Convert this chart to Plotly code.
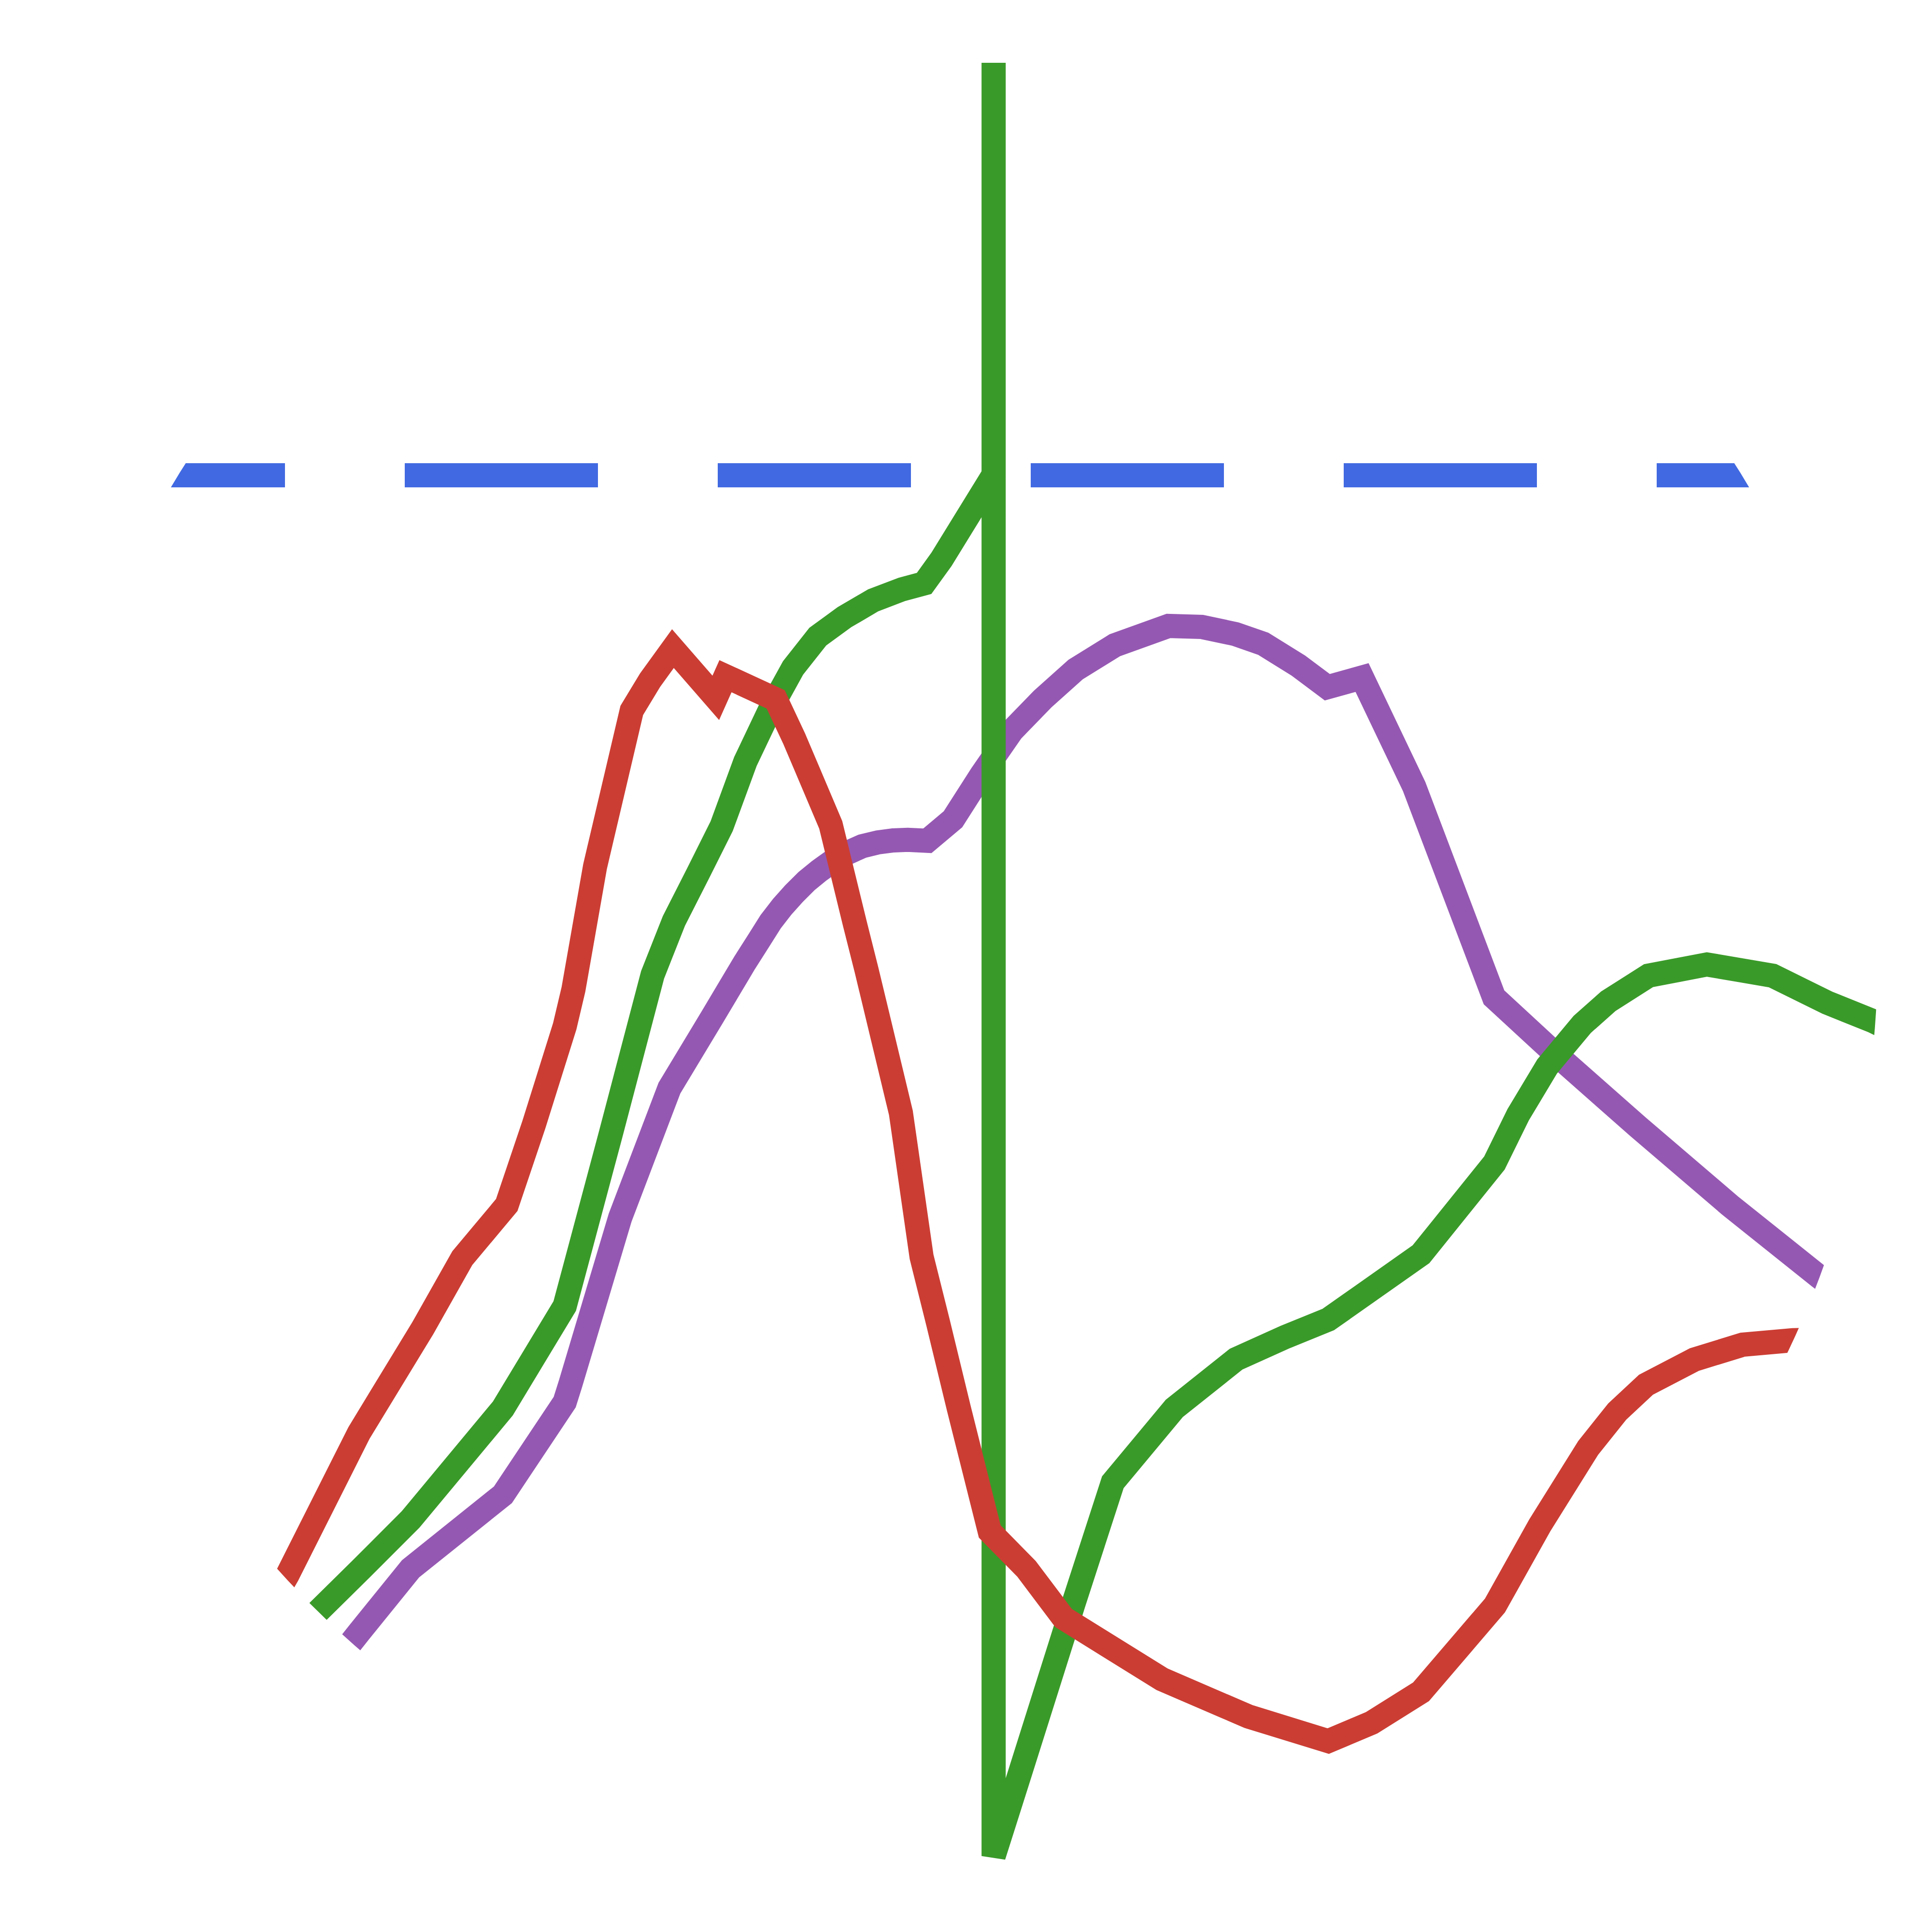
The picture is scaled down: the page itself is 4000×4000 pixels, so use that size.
import plotly.graph_objects as go

# ---- series values (x = time units, y = value units) ----
red_x = [13.50, 14.68, 18.38, 21.68, 23.73, 26.03, 27.43, 29.03, 29.48, 30.60, 32.50, 33.45, 34.63,
         36.85, 37.35, 39.95, 40.90, 41.58, 42.80, 44.05, 44.65, 46.43, 47.50, 48.35, 49.43, 51.03,
         52.93, 54.85, 59.95, 64.43, 68.55, 70.80, 73.35, 77.18, 79.50, 82.00, 83.50, 85.00, 87.50,
         90.00, 92.60, 95.00]
red_y = [16.63, 18.68, 26.03, 31.45, 35.08, 37.83, 41.98, 47.08, 48.98, 55.35, 63.43, 65.00, 66.63,
         64.08, 65.20, 64.00, 61.98, 60.38, 57.50, 52.38, 50.00, 42.60, 35.15, 31.75, 27.30, 20.93,
         19.00, 16.45, 13.28, 11.35, 10.08, 11.03, 12.63, 17.10, 21.25, 25.25, 27.13, 28.53, 29.83,
         30.60, 30.83, 30.88]

green_x = [14.00, 16.25, 18.50, 21.05, 25.83, 29.03, 31.38, 33.58, 34.68, 35.95, 37.15, 38.38, 39.65,
           40.85, 42.13, 43.50, 45.00, 46.50, 47.63, 48.53, 51.23, 51.23, 51.23, 52.58, 55.38, 57.40,
           60.58, 63.78, 66.33, 68.55, 73.35, 77.15, 78.38, 79.88, 81.70, 83.05, 85.13, 88.15, 91.55,
           94.38, 96.75, 99.00]
green_y = [14.25, 16.78, 19.00, 21.55, 27.30, 32.60, 41.38, 49.75, 52.53, 55.03, 57.43, 60.78, 63.45,
           65.63, 67.25, 68.25, 69.13, 69.70, 70.00, 71.25, 75.63, 96.95, 4.13, 8.38, 17.25, 23.48,
           27.30, 29.85, 31.00, 31.90, 35.28, 40.00, 42.50, 45.00, 47.18, 48.38, 49.70, 50.28, 49.70,
           48.30, 47.35, 46.25]

purple_x = [16.00, 17.73, 18.38, 21.05, 25.83, 29.03, 29.33, 31.90, 34.45, 36.68, 38.35, 39.05, 39.68,
            40.30, 40.90, 41.55, 42.20, 42.83, 43.60, 44.43, 45.25, 46.03, 46.78, 47.80, 49.13, 50.60,
            52.18, 53.75, 55.48, 57.50, 60.28, 62.00, 63.75, 65.18, 67.00, 68.50, 70.30, 73.00, 77.13,
            80.25, 84.58, 89.35, 93.98, 96.25]
purple_y = [13.25, 14.88, 15.70, 19.00, 22.83, 27.63, 28.58, 37.18, 43.88, 47.58, 50.38, 51.48, 52.48,
            53.28, 53.95, 54.60, 55.13, 55.58, 56.03, 56.40, 56.60, 56.70, 56.73, 56.68, 57.80, 60.10,
            62.38, 64.00, 65.55, 66.80, 67.80, 67.75, 67.38, 66.88, 65.75, 64.63, 65.13, 59.48, 48.58,
            45.70, 41.88, 37.80, 34.10, 32.38]

threshold_x = [4.55, 94.43]
threshold_y = [75.6, 75.6]

# ---- styling ----
LINE_W = 50
CLIP_CX, CLIP_CY, CLIP_R = 49.49, 50.73, 47.5   # circular plotting region
MASK_W = 25.0                                     # ring thickness (data units)

fig = go.Figure()
fig.add_trace(go.Scatter(x=threshold_x, y=threshold_y, mode="lines",
                         line=dict(color="#4169E1", width=LINE_W, dash="400px,248px", simplify=False),
                         hoverinfo="skip", showlegend=False))
fig.add_trace(go.Scatter(x=purple_x, y=purple_y, mode="lines",
                         line=dict(color="#9558B2", width=LINE_W, simplify=False),
                         hoverinfo="skip", showlegend=False))
fig.add_trace(go.Scatter(x=green_x, y=green_y, mode="lines",
                         line=dict(color="#3A9A29", width=LINE_W, simplify=False),
                         hoverinfo="skip", showlegend=False))
fig.add_trace(go.Scatter(x=red_x, y=red_y, mode="lines",
                         line=dict(color="#CB3D33", width=LINE_W, simplify=False),
                         hoverinfo="skip", showlegend=False))

rc = CLIP_R + MASK_W / 2
fig.add_shape(type="circle", xref="x", yref="y", layer="above",
              x0=CLIP_CX - rc, x1=CLIP_CX + rc, y0=CLIP_CY - rc, y1=CLIP_CY + rc,
              line=dict(color="white", width=MASK_W * 40), fillcolor="rgba(0,0,0,0)")

fig.update_layout(width=4000, height=4000, margin=dict(l=0, r=0, t=0, b=0),
                  paper_bgcolor="white", plot_bgcolor="white", showlegend=False,
                  xaxis=dict(range=[0, 100], visible=False, fixedrange=True),
                  yaxis=dict(range=[0, 100], visible=False, fixedrange=True))

fig.write_html("out.html")
